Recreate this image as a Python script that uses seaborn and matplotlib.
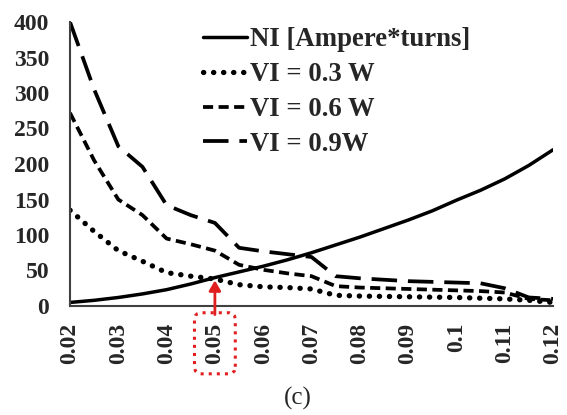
import numpy as np
import pandas as pd
import matplotlib
matplotlib.use("Agg")
import matplotlib.pyplot as plt
import seaborn as sns

# ---- data ----
x_vals = [0.02, 0.025, 0.03, 0.035, 0.04, 0.045, 0.05, 0.055, 0.06, 0.065, 0.07,
          0.075, 0.08, 0.085, 0.09, 0.095, 0.1, 0.105, 0.11, 0.115, 0.12]
ni = [5, 8, 12, 17, 23, 31, 40, 48, 56, 65, 75, 86, 97, 109, 121, 134, 149, 163, 179, 198, 220]
vi_03 = [135, 105, 78, 63, 47, 42, 38, 30, 27, 26, 24, 15, 14, 13.5, 13, 12.5, 12, 11, 10, 8, 5]
vi_06 = [272, 205, 150, 128, 95, 87, 78, 58, 51, 46, 42, 28, 26, 25, 24, 23, 22, 21, 19, 10, 8]
vi_09 = [400, 305, 225, 196, 142, 128, 117, 82, 77, 73, 69, 42, 39, 37, 35, 34, 33, 32, 25, 12, 10]
series_names = ["NI [Ampere*turns]", "VI = 0.3 W", "VI = 0.6 W", "VI = 0.9W"]
tick_vals = [0.02, 0.03, 0.04, 0.05, 0.06, 0.07, 0.08, 0.09, 0.1, 0.11, 0.12]
tick_labels = ["0.02", "0.03", "0.04", "0.05", "0.06", "0.07", "0.08", "0.09", "0.1", "0.11", "0.12"]
y_ticks = [0, 50, 100, 150, 200, 250, 300, 350, 400]

df = pd.DataFrame({
    "x": x_vals * 4,
    "y": ni + vi_03 + vi_06 + vi_09,
    "series": sum([[n] * len(x_vals) for n in series_names], []),
})

sns.set_style("white")
plt.rcParams["font.family"] = ["Liberation Serif", "DejaVu Serif"]

fig = plt.figure(figsize=(5.67, 4.15), dpi=100)
ax = fig.add_axes([70 / 567, 1 - 306 / 415, (553 - 70) / 567, (306 - 22) / 415])

styles = {
    series_names[0]: dict(lw=2.5, ls="-"),
    series_names[1]: dict(lw=3.8, ls=(0, (0.05, 1.85))),
    series_names[2]: dict(lw=2.7, ls=(0, (2.7, 1.45))),
    series_names[3]: dict(lw=2.7, ls=(0, (6.8, 2.9))),
}
for name in series_names:
    sub = df[df["series"] == name]
    sns.lineplot(data=sub, x="x", y="y", ax=ax, color="black", label=name,
                 linewidth=styles[name]["lw"], linestyle=styles[name]["ls"])

for line, name in zip(ax.get_lines(), series_names):
    if name == series_names[1]:
        line.set_dash_capstyle("round")
    else:
        line.set_dash_capstyle("butt")

ax.set_xlim(0.02, 0.12)
ax.set_ylim(0, 400)
ax.set_xticks(tick_vals)
ax.set_xticklabels(tick_labels, rotation=90, fontsize=17, fontweight="bold")
ax.set_yticks(y_ticks)
ax.set_yticklabels([str(v) for v in y_ticks], fontsize=17, fontweight="bold")
ax.tick_params(axis="x", length=0, pad=12)
ax.tick_params(axis="y", length=0, pad=15)
ax.set_xlabel("")
ax.set_ylabel("")

for s in ["top", "right"]:
    ax.spines[s].set_visible(False)
for s in ["left", "bottom"]:
    ax.spines[s].set_color("#404040")
    ax.spines[s].set_linewidth(1.5)

# red dotted box around 0.05 label
lab = ax.get_xticklabels()[tick_labels.index("0.05")]
lab.set_bbox(dict(boxstyle="round,pad=0.42,rounding_size=0.3", fc="none", ec="#e02020", ls=":", lw=2.2))

# red arrow
ax.annotate("", xy=(0.05, ni[x_vals.index(0.05)]), xycoords="data",
            xytext=(0.05, -0.04), textcoords=("data", "axes fraction"),
            arrowprops=dict(arrowstyle="-|>,head_length=0.6,head_width=0.35", color="#e02020", lw=2),
            annotation_clip=False)

leg = ax.legend(loc="upper left", bbox_to_anchor=(0.275, 0.982), frameon=False,
                prop=dict(size=19.3, weight="bold"), handlelength=1.65, handletextpad=0.1,
                labelspacing=0.37, borderpad=0, borderaxespad=0)

fig.text(298 / 567, 1 - 398 / 415, "(c)", ha="center", va="center", fontsize=18)

fig.savefig("out.png", dpi=100)
